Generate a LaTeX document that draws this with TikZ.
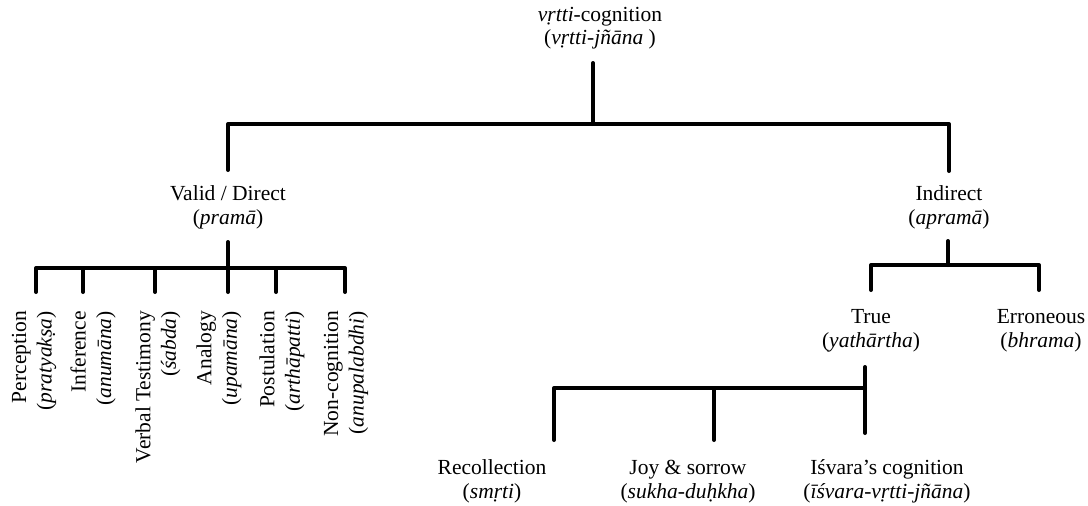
\documentclass[tikz,border=0pt]{standalone}
\usepackage{fontspec}
\setmainfont{Liberation Serif}
\begin{document}
\begin{tikzpicture}[x=1pt,y=-1pt,
  lbl/.style={inner sep=0pt, align=center, font=\fontsize{21.5}{24}\selectfont, anchor=base},
  vlbl/.style={inner sep=0pt, align=right, font=\fontsize{21.5}{25.5}\selectfont, rotate=90, anchor=east},
  tree/.style={line width=4pt, line cap=round, line join=round}]
\useasboundingbox (0,0) rectangle (1088,506);

% labels (placed by the baseline of their last line)
\node[lbl] (root) at (600,45) {\textit{vṛtti}-cognition\\(\textit{vṛtti-jñāna} )};
\node[lbl] (valid) at (228,224) {Valid / Direct\\(\textit{pramā})};
\node[lbl] (indirect) at (949,224) {Indirect\\(\textit{apramā})};
\node[lbl] (true) at (871,347) {True\\(\textit{yathārtha})};
\node[lbl] (err) at (1041,347) {Erroneous\\(\textit{bhrama})};
\node[lbl] (recol) at (492,498) {Recollection\\(\textit{smṛti})};
\node[lbl] (joy) at (688,498) {Joy \& sorrow\\(\textit{sukha-duḥkha})};
\node[lbl] (isvara) at (887,498) {Iśvara’s cognition\\(\textit{īśvara-vṛtti-jñāna})};

\node[vlbl] (perc) at (34,311) {Perception\\(\textit{pratyakṣa})};
\node[vlbl] (infer) at (93,311) {Inference\\(\textit{anumāna})};
\node[vlbl] (verbal) at (158,311) {Verbal Testimony\\(\textit{śabda})};
\node[vlbl] (analogy) at (219,311) {Analogy\\(\textit{upamāna})};
\node[vlbl] (postul) at (282,311) {Postulation\\(\textit{arthāpatti})};
\node[vlbl] (noncog) at (346,311) {Non-cognition\\(\textit{anupalabdhi})};

% connector end points
\coordinate (rootstem) at (593,63);
\coordinate (rootbar) at (593,124);
\coordinate (validtop) at (228,170);
\coordinate (indtop) at (949,171);
\coordinate (validstem) at (228,242);
\coordinate (validbar) at (228,268);
\coordinate (percend) at (36,292);
\coordinate (inferend) at (83,292);
\coordinate (verbalend) at (155,292);
\coordinate (analogyend) at (228,292);
\coordinate (postulend) at (276,292);
\coordinate (noncogend) at (345,292);
\coordinate (indstem) at (948,241);
\coordinate (indbar) at (948,265);
\coordinate (trueend) at (871,290);
\coordinate (errend) at (1039,290);
\coordinate (truestem) at (865,367);
\coordinate (truebar) at (865,388);
\coordinate (trueleg) at (865,433);
\coordinate (recolend) at (554,440);
\coordinate (joyend) at (714,440);

% first level
\draw[tree] (rootstem) -- (rootbar);
\draw[tree] (validtop) -- (validtop |- rootbar) -- (indtop |- rootbar) -- (indtop);

% valid branch
\draw[tree] (validstem) -- (analogyend);
\draw[tree] (percend) -- (percend |- validbar) -- (noncogend |- validbar) -- (noncogend);
\draw[tree] (inferend |- validbar) -- (inferend);
\draw[tree] (verbalend |- validbar) -- (verbalend);
\draw[tree] (postulend |- validbar) -- (postulend);

% indirect branch
\draw[tree] (indstem) -- (indbar);
\draw[tree] (trueend) -- (trueend |- indbar) -- (errend |- indbar) -- (errend);

% true branch
\draw[tree] (truestem) -- (trueleg);
\draw[tree] (recolend) -- (recolend |- truebar) -- (truebar);
\draw[tree] (joyend |- truebar) -- (joyend);
\end{tikzpicture}
\end{document}
